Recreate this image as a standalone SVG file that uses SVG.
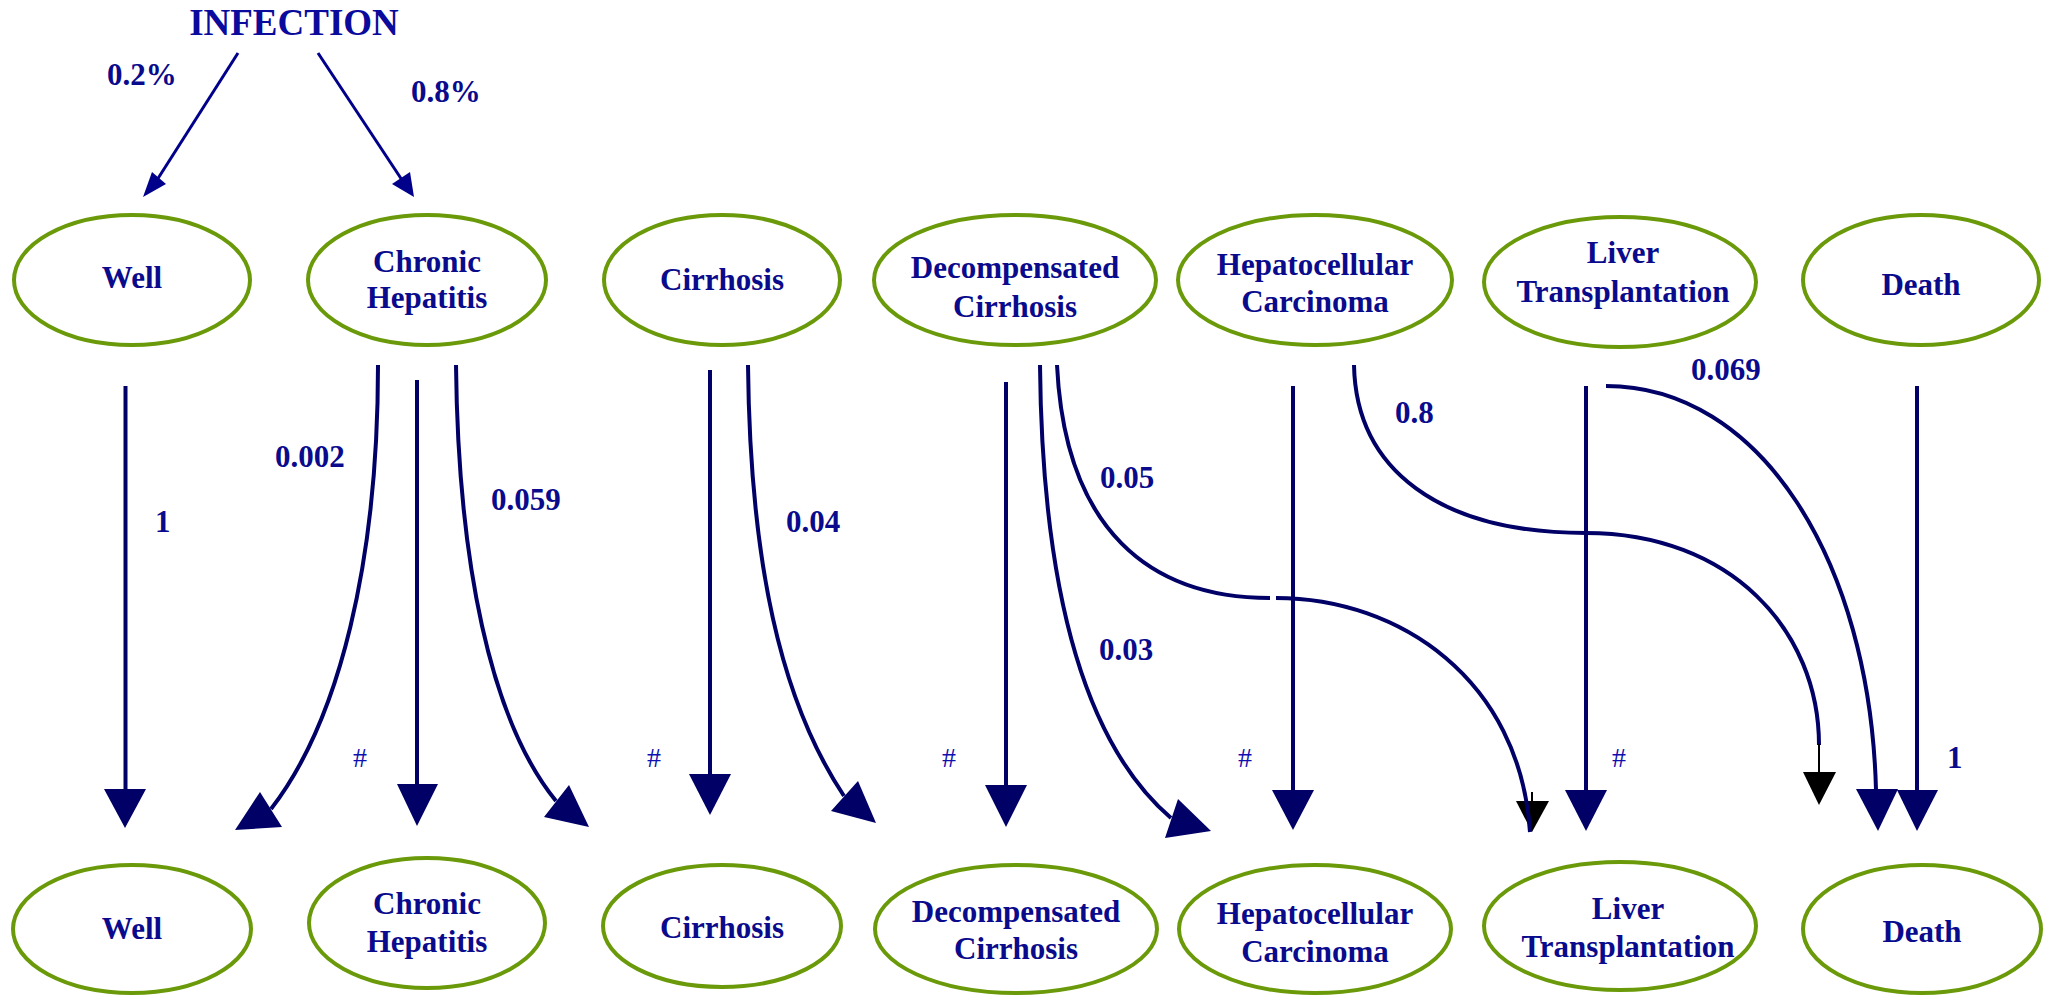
<svg xmlns="http://www.w3.org/2000/svg" width="2054" height="995" viewBox="0 0 2054 995">
<style>
.node ellipse{fill:#fff;stroke:#6a9a0a;stroke-width:4}
.node text{font-family:"Liberation Serif","Times New Roman",serif;font-weight:bold;font-size:31px;fill:#0a0a8c;text-anchor:middle}
.lbl{font-family:"Liberation Serif","Times New Roman",serif;font-weight:bold;font-size:31px;fill:#0a0a8c}
.hash{font-family:"Liberation Serif","Times New Roman",serif;font-size:28px;fill:#1010b0}
.title{font-family:"Liberation Serif","Times New Roman",serif;font-weight:bold;font-size:37px;fill:#0a0a9c;text-anchor:middle}
.e{fill:none;stroke:#000066;stroke-width:4}
.ah{fill:#000066}
.inf{fill:none;stroke:#00008b;stroke-width:3}
.infh{fill:#00008b}
.blk{fill:none;stroke:#000;stroke-width:2}
.bh{fill:#000}
</style>
<rect width="2054" height="995" fill="#fff"/>
<text class="title" x="294" y="35">INFECTION</text>
<text class="lbl" x="107" y="85">0.2%</text>
<text class="lbl" x="411" y="102">0.8%</text>

<g id="top-well" class="node"><ellipse cx="132" cy="280" rx="118" ry="65"/><text x="132" y="288">Well</text></g>
<g id="top-chronic" class="node"><ellipse cx="427" cy="280" rx="119" ry="65"/><text x="427" y="272">Chronic</text><text x="427" y="308">Hepatitis</text></g>
<g id="top-cirrhosis" class="node"><ellipse cx="722" cy="280" rx="118" ry="65"/><text x="722" y="290">Cirrhosis</text></g>
<g id="top-decomp" class="node"><ellipse cx="1015" cy="280" rx="141" ry="65"/><text x="1015" y="278">Decompensated</text><text x="1015" y="317">Cirrhosis</text></g>
<g id="top-hcc" class="node"><ellipse cx="1315" cy="280" rx="137" ry="65"/><text x="1315" y="275">Hepatocellular</text><text x="1315" y="312">Carcinoma</text></g>
<g id="top-liver" class="node"><ellipse cx="1620" cy="282" rx="136" ry="65"/><text x="1623" y="263">Liver</text><text x="1623" y="302">Transplantation</text></g>
<g id="top-death" class="node"><ellipse cx="1921" cy="280" rx="118" ry="65"/><text x="1921" y="295">Death</text></g>

<g id="bot-well" class="node"><ellipse cx="132" cy="929" rx="119" ry="64"/><text x="132" y="939">Well</text></g>
<g id="bot-chronic" class="node"><ellipse cx="427" cy="923" rx="118" ry="65"/><text x="427" y="914">Chronic</text><text x="427" y="952">Hepatitis</text></g>
<g id="bot-cirrhosis" class="node"><ellipse cx="722" cy="926" rx="119" ry="61"/><text x="722" y="938">Cirrhosis</text></g>
<g id="bot-decomp" class="node"><ellipse cx="1016" cy="929" rx="141" ry="64"/><text x="1016" y="922">Decompensated</text><text x="1016" y="959">Cirrhosis</text></g>
<g id="bot-hcc" class="node"><ellipse cx="1315" cy="929" rx="136" ry="64"/><text x="1315" y="924">Hepatocellular</text><text x="1315" y="962">Carcinoma</text></g>
<g id="bot-liver" class="node"><ellipse cx="1620" cy="926" rx="136" ry="64"/><text x="1628" y="919">Liver</text><text x="1628" y="957">Transplantation</text></g>
<g id="bot-death" class="node"><ellipse cx="1922" cy="929" rx="119" ry="64"/><text x="1922" y="942">Death</text></g>

<g id="connectors">
<line class="inf" x1="238" y1="53" x2="157" y2="180"/>
<polygon class="infh" points="143,197 152,172 166,184"/>
<line class="inf" x1="318" y1="53" x2="402" y2="180"/>
<polygon class="infh" points="414,197 392,184 410,172"/>

<line class="e" x1="125.5" y1="386" x2="125.5" y2="790"/>
<polygon class="ah" points="104,789 146,789 125,828"/>
<line class="e" x1="417" y1="380" x2="417" y2="785"/>
<polygon class="ah" points="397,784 438,784 417,826"/>
<line class="e" x1="710" y1="370" x2="710" y2="775"/>
<polygon class="ah" points="689,774 731,774 710,815"/>
<line class="e" x1="1006" y1="382" x2="1006" y2="786"/>
<polygon class="ah" points="985,785 1027,785 1006,827"/>
<line class="e" x1="1293" y1="386" x2="1293" y2="791"/>
<polygon class="ah" points="1272,790 1314,790 1293,830"/>
<line class="e" x1="1586" y1="386" x2="1586" y2="791"/>
<polygon class="ah" points="1565,790 1607,790 1586,831"/>
<line class="e" x1="1917" y1="386" x2="1917" y2="791"/>
<polygon class="ah" points="1897,790 1938,790 1917,831"/>

<path class="e" d="M378,365 C378,560 340,720 271,809"/>
<polygon class="ah" points="260,792 282,827 235,830"/>
<path class="e" d="M456,365 C458,560 490,720 556,801"/>
<polygon class="ah" points="544,817 569,785 589,827"/>
<path class="e" d="M748,365 C750,560 780,700 844,796"/>
<polygon class="ah" points="831,811 858,781 876,823"/>
<path class="e" d="M1040,365 C1042,580 1080,740 1171,818"/>
<polygon class="ah" points="1165,838 1178,799 1211,831"/>

<path class="e" d="M1057,365 C1065,530 1150,598 1270,598"/>
<line class="blk" x1="1532" y1="792" x2="1532" y2="802"/>
<polygon class="bh" points="1516,801 1549,801 1532,832"/>
<path class="e" d="M1276,598 C1400,598 1520,680 1530,832"/>

<path class="e" d="M1354,365 C1356,470 1440,533 1586,533 C1730,533 1819,630 1819,745"/>
<line class="blk" x1="1819" y1="744" x2="1819" y2="773"/>
<polygon class="bh" points="1803,772 1836,772 1819,805"/>

<path class="e" d="M1606,386 C1760,386 1870,560 1876,790"/>
<polygon class="ah" points="1856,789 1898,789 1878,831"/>

<text class="lbl" x="155" y="532">1</text>
<text class="lbl" x="275" y="467">0.002</text>
<text class="lbl" x="491" y="510">0.059</text>
<text class="lbl" x="786" y="532">0.04</text>
<text class="lbl" x="1100" y="488">0.05</text>
<text class="lbl" x="1099" y="660">0.03</text>
<text class="lbl" x="1395" y="423">0.8</text>
<text class="lbl" x="1691" y="380">0.069</text>
<text class="lbl" x="1947" y="768">1</text>
<text class="hash" x="353" y="767">#</text>
<text class="hash" x="647" y="767">#</text>
<text class="hash" x="942" y="767">#</text>
<text class="hash" x="1238" y="767">#</text>
<text class="hash" x="1612" y="767">#</text>
</g>
</svg>
